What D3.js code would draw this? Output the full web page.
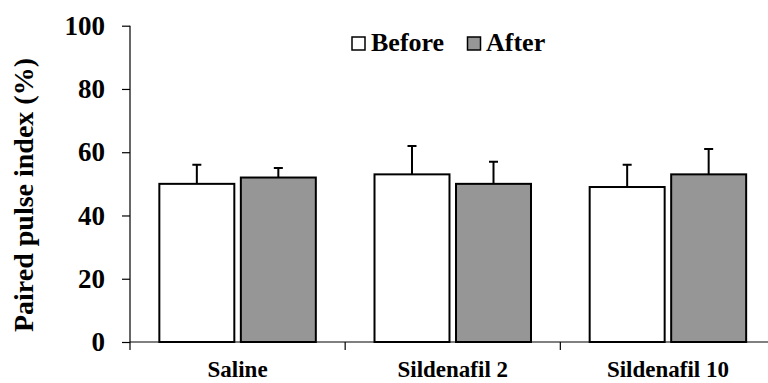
<!DOCTYPE html>
<html lang="en">
<head>
  <meta charset="UTF-8">
  <title>Paired pulse index</title>
  <script src="https://d3js.org/d3.v7.min.js"></script>
  <style>
    body { margin: 0; background: #fff; }
    svg { display: block; }
    svg text { font-family: "Liberation Serif", "Times New Roman", Times, Tinos, "DejaVu Serif", serif; font-weight: bold; fill: #000; }
  </style>
</head>
<body>
  <svg width="768" height="383"></svg>

  <script>
    const categories = ["Saline", "Sildenafil 2", "Sildenafil 10"];
    const series = ["Before", "After"];
    const before = [50, 53, 49];
    const beforeErr = [6, 9, 7];
    const after = [52, 50, 53];
    const afterErr = [3, 7, 8];
    const yTicks = [0, 20, 40, 60, 80, 100];
    const colors = {Before: "#ffffff", After: "#969696"};

    const svg = d3.select("svg");
    const x0 = 130, x1 = 775.5, yTop = 25.7, yBot = 342;

    const x = d3.scaleBand().domain(categories).range([x0, x1]);
    const xs = d3.scaleBand().domain(series)
        .range([0, x.bandwidth()]).paddingInner(0.08).paddingOuter(0.36);
    const y = d3.scaleLinear().domain([0, 100]).range([yBot, yTop]);

    const data = categories.map((c, i) => ({
      cat: c,
      vals: [
        {s: "Before", v: before[i], e: beforeErr[i]},
        {s: "After", v: after[i], e: afterErr[i]}
      ]
    }));

    // y axis
    const yAxis = svg.append("g")
        .attr("transform", `translate(${x0},0)`)
        .call(d3.axisLeft(y).tickValues(yTicks).tickSize(8).tickPadding(17));
    yAxis.attr("font-family", null).attr("font-size", null);
    yAxis.select(".domain").attr("d", `M0,${yTop}V${yBot + 8}`);
    yAxis.selectAll("line, path").attr("stroke", "#000").attr("stroke-width", 1.2);
    yAxis.selectAll("text").style("font-size", "27px");

    // x axis
    const xAxis = svg.append("g").attr("transform", `translate(0,${yBot})`);
    xAxis.append("line").attr("x1", x0).attr("x2", 768)
        .attr("stroke", "#000").attr("stroke-width", 1.2);
    xAxis.selectAll(".tk").data(categories.slice(1)).enter().append("line")
        .attr("x1", d => x(d)).attr("x2", d => x(d))
        .attr("y1", 0).attr("y2", 8)
        .attr("stroke", "#000").attr("stroke-width", 1.2);
    xAxis.selectAll(".lbl").data(categories).enter().append("text")
        .attr("x", d => x(d) + x.bandwidth() / 2)
        .attr("y", 35)
        .attr("text-anchor", "middle")
        .style("font-size", "23px")
        .text(d => d);

    // bars
    const groups = svg.selectAll(".grp").data(data).enter().append("g")
        .attr("transform", d => `translate(${x(d.cat)},0)`);

    groups.selectAll(".err").data(d => d.vals).enter().append("path")
        .attr("d", d => {
          const cx = xs(d.s) + xs.bandwidth() / 2;
          return `M${cx},${y(d.v)}V${y(d.v + d.e)}M${cx - 4.5},${y(d.v + d.e)}H${cx + 4.5}`;
        })
        .attr("stroke", "#000").attr("stroke-width", 2).attr("fill", "none");

    groups.selectAll(".bar").data(d => d.vals).enter().append("rect")
        .attr("x", d => xs(d.s))
        .attr("y", d => y(d.v))
        .attr("width", xs.bandwidth())
        .attr("height", d => yBot - y(d.v))
        .attr("fill", d => colors[d.s])
        .attr("stroke", "#000").attr("stroke-width", 2);

    // y label
    svg.append("text")
        .attr("transform", `translate(33,195) rotate(-90)`)
        .attr("text-anchor", "middle")
        .style("font-size", "28px")
        .text("Paired pulse index (%)");

    // legend
    const legendPos = [{s: "Before", bx: 352, tx: 371}, {s: "After", bx: 467.5, tx: 486}];
    const legend = svg.append("g");
    legendPos.forEach(p => {
      legend.append("rect")
          .attr("x", p.bx).attr("y", 37).attr("width", 13).attr("height", 13)
          .attr("fill", colors[p.s]).attr("stroke", "#000").attr("stroke-width", 1.5);
      legend.append("text")
          .attr("x", p.tx).attr("y", 51)
          .style("font-size", "26px")
          .text(p.s);
    });
  </script>
</body>
</html>
